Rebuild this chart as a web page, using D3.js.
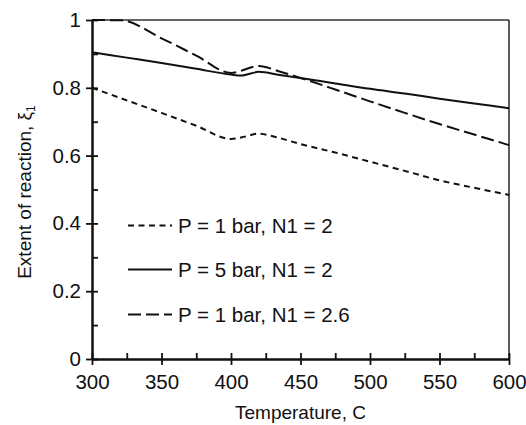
<!DOCTYPE html>
<html>
<head>
<meta charset="utf-8">
<script src="https://cdn.jsdelivr.net/npm/d3@7/dist/d3.min.js"></script>
<style>
  html, body { margin: 0; padding: 0; background: #fff; }
  svg { display: block; }
  text { font-family: "Liberation Sans", Arial, Helvetica, sans-serif; fill: #111; }
</style>
</head>
<body>
<svg id="chart" width="526" height="425"></svg>
<script>
// ---- data ----
const temps1 = [300, 325, 350, 375, 400, 410, 420, 430, 450, 475, 500, 525, 550, 575, 600];
const p1n2 = [0.800, 0.763, 0.726, 0.688, 0.649, 0.656, 0.665, 0.657, 0.634, 0.609, 0.582, 0.555, 0.527, 0.505, 0.484];

const temps2 = [300, 325, 350, 375, 400, 407, 420, 435, 450, 475, 500, 525, 550, 575, 600];
const p5n2 = [0.905, 0.889, 0.873, 0.856, 0.839, 0.836, 0.847, 0.838, 0.829, 0.813, 0.797, 0.783, 0.768, 0.754, 0.740];

const temps3 = [300, 321, 350, 375, 400, 420, 435, 450, 475, 500, 525, 550, 575, 600];
const p1n26 = [1.000, 0.999, 0.946, 0.895, 0.844, 0.864, 0.848, 0.829, 0.795, 0.760, 0.726, 0.693, 0.662, 0.631];

const seriesNames = ["P = 1 bar, N1 = 2", "P = 5 bar, N1 = 2", "P = 1 bar, N1 = 2.6"];
const xTicks = [300, 350, 400, 450, 500, 550, 600];
const xMinor = [325, 375, 425, 475, 525, 575];
const yTicks = [0, 0.2, 0.4, 0.6, 0.8, 1];
const yMinor = [0.1, 0.3, 0.5, 0.7, 0.9];
const yTickLabels = ["0", "0.2", "0.4", "0.6", "0.8", "1"];

// ---- layout ----
const svg = d3.select("#chart");
const L = 92, T = 20, R = 509, B = 359;
const x = d3.scaleLinear().domain([300, 600]).range([L, R]);
const y = d3.scaleLinear().domain([0, 1]).range([B, T]);

const series = [
  { t: temps1, v: p1n2, dash: "6,4.5" },
  { t: temps2, v: p5n2, dash: null },
  { t: temps3, v: p1n26, dash: "13,5" }
];

// frame top & right
svg.append("line").attr("x1", L).attr("x2", R).attr("y1", T).attr("y2", T)
  .attr("stroke", "#333").attr("stroke-width", 1.6);
svg.append("line").attr("x1", R).attr("x2", R).attr("y1", T).attr("y2", B)
  .attr("stroke", "#333").attr("stroke-width", 1.6);

// lines
const line = d3.line().curve(d3.curveMonotoneX);
series.forEach(s => {
  const pts = s.t.map((tv, i) => [x(tv), y(s.v[i])]);
  svg.append("path").attr("d", line(pts))
    .attr("fill", "none").attr("stroke", "#111").attr("stroke-width", 2)
    .attr("stroke-dasharray", s.dash);
});

// axes
function styleAxis(g) {
  g.selectAll("path.domain").attr("stroke", "#111").attr("stroke-width", 2);
  g.selectAll(".tick line").attr("stroke", "#111").attr("stroke-width", 1.8);
}
// x axis: outer major ticks with labels
const gx = svg.append("g").attr("transform", `translate(0,${B})`)
  .call(d3.axisBottom(x).tickValues(xTicks).tickSizeInner(6).tickSizeOuter(0).tickPadding(9).tickFormat(d3.format("d")));
styleAxis(gx);
gx.selectAll(".tick text").style("font-size", "20.5px").attr("fill", "#111");
// x inner ticks
const gx2 = svg.append("g").attr("transform", `translate(0,${B})`)
  .call(d3.axisBottom(x).tickValues(xTicks.concat(xMinor)).tickSizeInner(-6).tickSizeOuter(0).tickFormat(""));
styleAxis(gx2);

// y axis
const gy = svg.append("g").attr("transform", `translate(${L},0)`)
  .call(d3.axisLeft(y).tickValues(yTicks).tickSizeInner(6).tickSizeOuter(0).tickPadding(5)
    .tickFormat((d, i) => yTickLabels[i]));
styleAxis(gy);
gy.selectAll(".tick text").style("font-size", "20.5px").attr("fill", "#111");
const gy2 = svg.append("g").attr("transform", `translate(${L},0)`)
  .call(d3.axisLeft(y).tickValues(yTicks.concat(yMinor)).tickSizeInner(-6).tickSizeOuter(0).tickFormat(""));
styleAxis(gy2);

// axis titles
svg.append("text").attr("x", (L + R) / 2).attr("y", 419).attr("text-anchor", "middle")
  .style("font-size", "19px").text("Temperature, C");
const yt = svg.append("text").attr("transform", `translate(31,192) rotate(-90)`)
  .attr("text-anchor", "middle").style("font-size", "19px");
yt.append("tspan").text("Extent of reaction, ξ");
yt.append("tspan").attr("dy", 4).style("font-size", "12px").text("1");

// legend
const legY = [225.5, 269.5, 314.5];
series.forEach((s, i) => {
  svg.append("line").attr("x1", 128).attr("x2", 172).attr("y1", legY[i]).attr("y2", legY[i])
    .attr("stroke", "#111").attr("stroke-width", 2).attr("stroke-dasharray", s.dash);
  svg.append("text").attr("x", 178).attr("y", legY[i] + 7)
    .style("font-size", "20.5px").text(seriesNames[i]);
});
</script>
</body>
</html>
